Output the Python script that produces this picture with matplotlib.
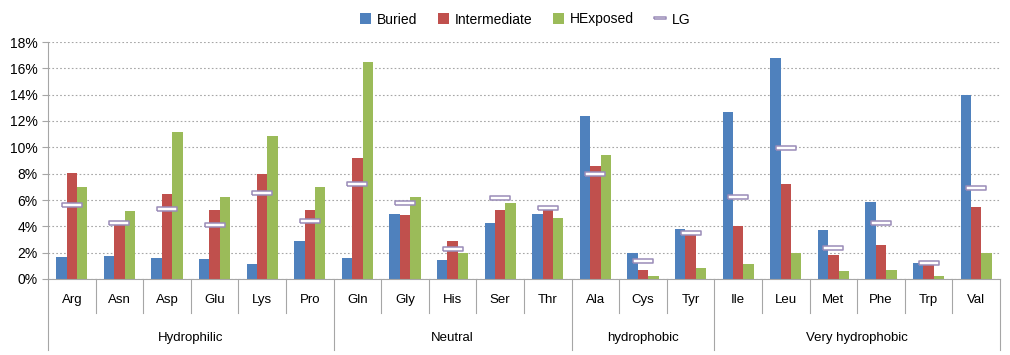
import matplotlib
matplotlib.use("Agg")
import matplotlib.pyplot as plt
import matplotlib.transforms as mtransforms
from matplotlib.ticker import FuncFormatter, MultipleLocator
import numpy as np

plt.rcParams['font.family'] = ['Liberation Sans', 'DejaVu Sans']

# amino acids and their groups
residues = ['Arg', 'Asn', 'Asp', 'Glu', 'Lys', 'Pro',
            'Gln', 'Gly', 'His', 'Ser', 'Thr',
            'Ala', 'Cys', 'Tyr',
            'Ile', 'Leu', 'Met', 'Phe', 'Trp', 'Val']
groups = ['Hydrophilic', 'Neutral', 'hydrophobic', 'Very hydrophobic']
group_sizes = [6, 5, 3, 6]

# frequencies in percent
buried = [1.67, 1.75, 1.57, 1.54, 1.11, 2.89,
          1.57, 4.96, 1.44, 4.23, 4.91,
          12.38, 1.95, 3.77,
          12.66, 16.76, 3.75, 5.82, 1.22, 14.0]
intermediate = [8.05, 4.1, 6.43, 5.27, 8.0, 5.27,
                9.19, 4.86, 2.89, 5.27, 5.54,
                8.61, 0.66, 3.47,
                4.05, 7.19, 1.8, 2.56, 1.11, 5.49]
hexposed = [7.01, 5.2, 11.2, 6.25, 10.86, 6.96,
            16.5, 6.2, 1.95, 5.77, 4.61,
            9.42, 0.23, 0.86,
            1.11, 1.95, 0.63, 0.68, 0.23, 1.95]
lg = [5.6, 4.23, 5.3, 4.08, 6.5, 4.43,
      7.19, 5.77, 2.28, 6.15, 5.37,
      7.97, 1.34, 3.47,
      6.25, 9.95, 2.33, 4.25, 1.24, 6.94]

blue = '#4F81BD'
red = '#C0504D'
green = '#9BBB59'

fig = plt.figure(figsize=(10.1, 3.55), dpi=100)
ax = fig.add_axes([48 / 1010, 76 / 355, 952 / 1010, 237 / 355])

x = np.arange(len(residues))
w = 0.218
b1 = ax.bar(x - w, buried, w, color=blue, label='Buried', zorder=2)
b2 = ax.bar(x, intermediate, w, color=red, label='Intermediate', zorder=2)
b3 = ax.bar(x + w, hexposed, w, color=green, label='HExposed', zorder=2)

rect = [(-1, -0.2), (1, -0.2), (1, 0.2), (-1, 0.2), (-1, -0.2)]
m, = ax.plot(x, lg, linestyle='none', marker=rect, markersize=15,
             markerfacecolor='white', markeredgecolor='#9A8CB8',
             markeredgewidth=1.1, label='LG', zorder=3)

ax.set_xlim(-0.5, len(residues) - 0.5)
ax.set_ylim(0, 18)
ax.yaxis.set_major_locator(MultipleLocator(2))
ax.yaxis.set_major_formatter(FuncFormatter(lambda v, p: '%d%%' % v))
ax.grid(axis='y', linestyle=(0, (1.5, 2)), color='#A6A6A6', linewidth=0.8, zorder=0)
ax.set_axisbelow(True)
for s in ['top', 'right']:
    ax.spines[s].set_visible(False)
ax.spines['left'].set_color('#A6A6A6')
ax.spines['bottom'].set_color('#A6A6A6')
ax.tick_params(axis='y', length=4, color='#A6A6A6', labelsize=10)
ax.set_xticks([])

# two-level category axis drawn below the plot
trans = mtransforms.blended_transform_factory(ax.transData, ax.transAxes)
for i, name in enumerate(residues):
    ax.text(i, -0.09, name, transform=trans, ha='center', va='center', fontsize=9.5)
bounds = np.cumsum([0] + group_sizes) - 0.5
for b in np.arange(len(residues) + 1) - 0.5:
    bottom = -0.30 if b in bounds else -0.143
    ax.plot([b, b], [0, bottom], transform=trans, color='#A6A6A6',
            linewidth=0.8, clip_on=False)
for g, lo, hi in zip(groups, bounds[:-1], bounds[1:]):
    ax.text((lo + hi) / 2, -0.25, g, transform=trans, ha='center', va='center',
            fontsize=9.5)

fig.legend([b1, b2, b3, m], ['Buried', 'Intermediate', 'HExposed', 'LG'],
           loc='upper center', bbox_to_anchor=(0.52, 1.0), ncol=4, frameon=False,
           fontsize=10, handlelength=0.8, handleheight=0.8, columnspacing=1.5,
           handletextpad=0.4, markerscale=0.6)

fig.savefig('out.png', dpi=100)
